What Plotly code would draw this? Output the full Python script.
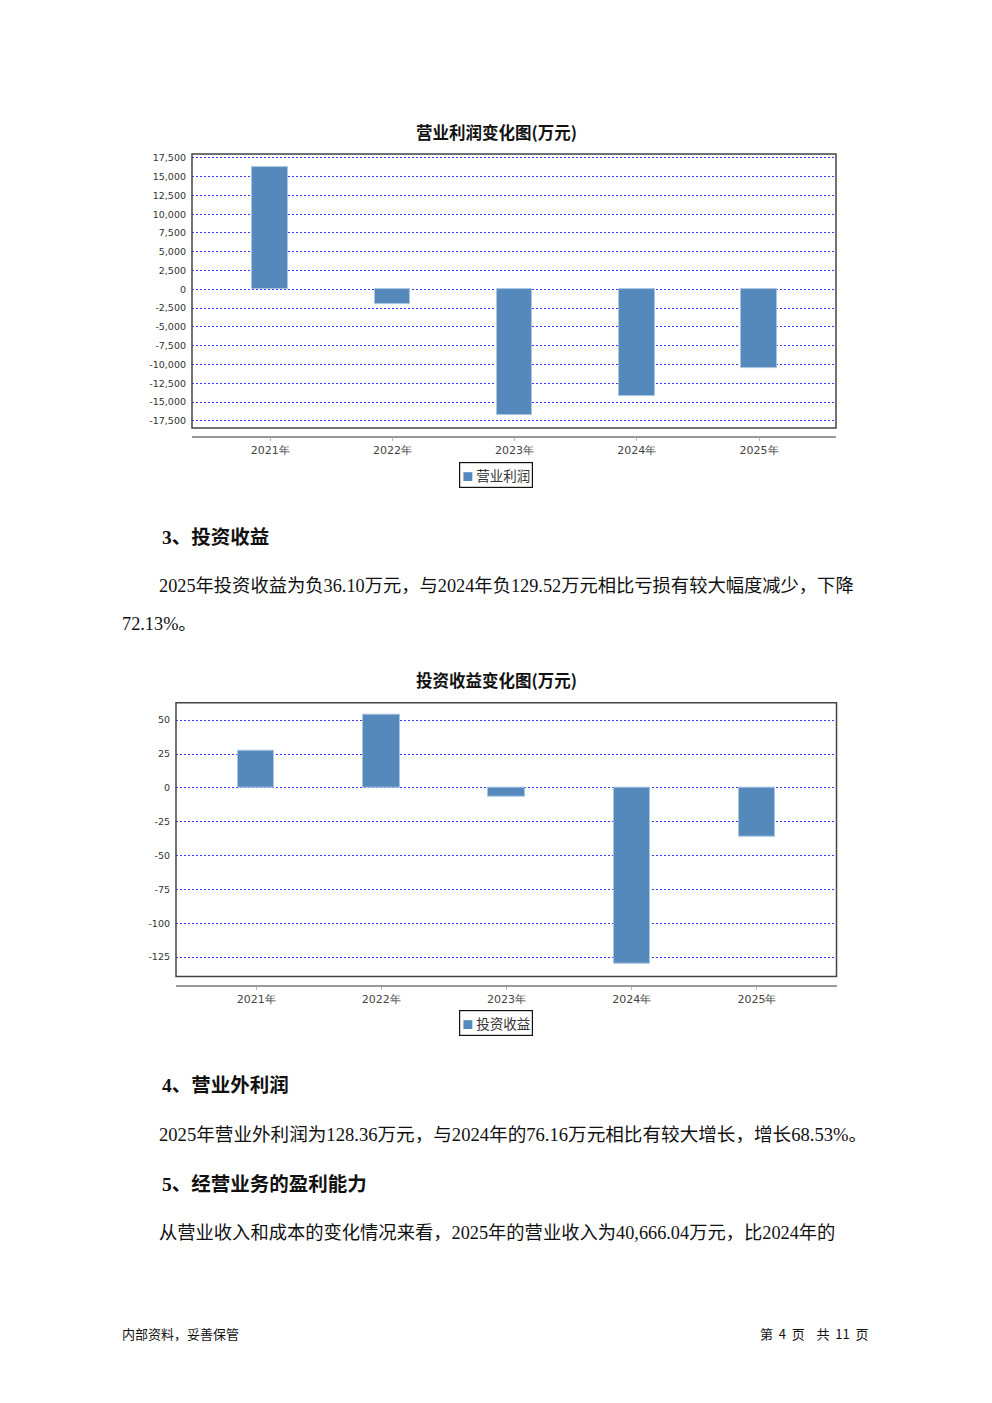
import plotly.graph_objects as go

# ---------------- data ----------------
years = ["2021年", "2022年", "2023年", "2024年", "2025年"]
op_profit = [16300, -1900, -16770, -14160, -10490]          # 营业利润 (万元)
inv_income = [27.8, 53.8, -6.6, -129.52, -36.10]           # 投资收益 (万元)
op_ticks = [-17500, -15000, -12500, -10000, -7500, -5000, -2500, 0,
            2500, 5000, 7500, 10000, 12500, 15000, 17500]
op_ticktext = [f"{v:,}" for v in op_ticks]
inv_ticks = [-125, -100, -75, -50, -25, 0, 25, 50]
inv_ticktext = [str(v) for v in inv_ticks]

chart1_title = "营业利润变化图(万元)"
chart2_title = "投资收益变化图(万元)"
series1_name = "营业利润"
series2_name = "投资收益"

# ---------------- style ----------------
BAR = "#5589BB"
BAR_EDGE = "#A9C5E2"
GRID = "rgba(45,45,255,0.95)"
W, H = 992, 1403
SERIF = "Liberation Serif, Noto Sans CJK SC, serif"
CJK = "Noto Sans CJK SC, sans-serif"
TICKF = dict(family="DejaVu Sans, sans-serif", size=9.5, color="#333")
CATF = dict(family="DejaVu Sans, sans-serif", size=11, color="#444")


def px_x(x):
    return x / W


def px_y(y):
    return 1 - y / H


fig = go.Figure()
fig.add_trace(go.Bar(x=years, y=op_profit, width=0.29, xaxis="x", yaxis="y",
                     marker=dict(color=BAR, line=dict(color=BAR_EDGE, width=1)),
                     showlegend=False, name=series1_name))
fig.add_trace(go.Bar(x=years, y=inv_income, width=0.29, xaxis="x2", yaxis="y2",
                     marker=dict(color=BAR, line=dict(color=BAR_EDGE, width=1)),
                     showlegend=False, name=series2_name))

xcommon = dict(type="category", categoryorder="array", categoryarray=years,
               anchor="free", showline=True, linecolor="#999", linewidth=1.5,
               ticks="outside", ticklen=3, tickcolor="#bbb", showgrid=False,
               zeroline=False, tickfont=CATF, fixedrange=True)
ycommon = dict(showgrid=True, gridcolor=GRID, gridwidth=1, griddash="2px,2px",
               zeroline=False, showline=False, ticks="", tickfont=TICKF,
               tickmode="array", fixedrange=True, ticklabelstandoff=5)

fig.update_layout(
    width=W, height=H, margin=dict(l=0, r=0, t=0, b=0),
    paper_bgcolor="white", plot_bgcolor="white", bargap=0,
    xaxis=dict(xcommon, domain=[px_x(192), px_x(836)], range=[-0.64, 4.63],
               position=px_y(436)),
    yaxis=dict(ycommon, domain=[px_y(426.7), px_y(152.3)], anchor="x",
               range=[-18460, 18000], tickvals=op_ticks, ticktext=op_ticktext),
    xaxis2=dict(xcommon, domain=[px_x(176), px_x(836.5)], range=[-0.64, 4.635],
                position=px_y(985.3)),
    yaxis2=dict(ycommon, domain=[px_y(976), px_y(701.7)], anchor="x2",
                range=[-139.4, 62.9], tickvals=inv_ticks, ticktext=inv_ticktext),
)

# plot frames
for xr, yr in (("x", "y"), ("x2", "y2")):
    fig.add_shape(type="rect", xref=f"{xr} domain", yref=f"{yr} domain",
                  x0=0, x1=1, y0=0, y1=1, line=dict(color="#444", width=1.5),
                  layer="above")

ann = []
# chart titles
ann.append(dict(text=f"<b>{chart1_title}</b>", x=px_x(496), y=px_y(130),
                font=dict(family=CJK, size=16.5, color="#111")))
ann.append(dict(text=f"<b>{chart2_title}</b>", x=px_x(496), y=px_y(679),
                font=dict(family=CJK, size=16.5, color="#111")))
# legends
for name, yy in ((series1_name, 473.5), (series2_name, 1022.5)):
    ann.append(dict(text=f"<span style='color:{BAR};font-size:11px'>■</span> {name}",
                    x=px_x(496), y=px_y(yy), bordercolor="#111", borderwidth=1.2,
                    borderpad=2, bgcolor="white",
                    font=dict(family=CJK, size=13.5, color="#333")))

# body text
body = [
    ("<b>3、投资收益</b>", 160, 536, 19.5),
    ("2025年投资收益为负36.10万元，与2024年负129.52万元相比亏损有较大幅度减少，下降", 157, 585, 18.3),
    ("72.13%。", 120, 623, 18.3),
    ("<b>4、营业外利润</b>", 160, 1085, 19.5),
    ("2025年营业外利润为128.36万元，与2024年的76.16万元相比有较大增长，增长68.53%。", 157, 1134, 18.6),
    ("<b>5、经营业务的盈利能力</b>", 160, 1184, 19.5),
    ("从营业收入和成本的变化情况来看，2025年的营业收入为40,666.04万元，比2024年的", 157, 1233, 18.3),
]
for t, x, y, s in body:
    ann.append(dict(text=t, x=px_x(x), y=px_y(y), xanchor="left",
                    font=dict(family=SERIF, size=s, color="#111")))

ann.append(dict(text="内部资料，妥善保管", x=px_x(120), y=px_y(1333), xanchor="left",
                font=dict(family=CJK, size=13, color="#111")))
ann.append(dict(text="第  4  页    共  11  页", x=px_x(871), y=px_y(1333), xanchor="right",
                font=dict(family=CJK, size=13, color="#111")))

for a in ann:
    a.setdefault("xanchor", "center")
    a.setdefault("yanchor", "middle")
    a.update(xref="paper", yref="paper", showarrow=False)
fig.update_layout(annotations=ann)

fig.write_html("out.html", config={"displayModeBar": False},
               post_script="document.body.style.margin='0';document.body.style.overflow='hidden';")
